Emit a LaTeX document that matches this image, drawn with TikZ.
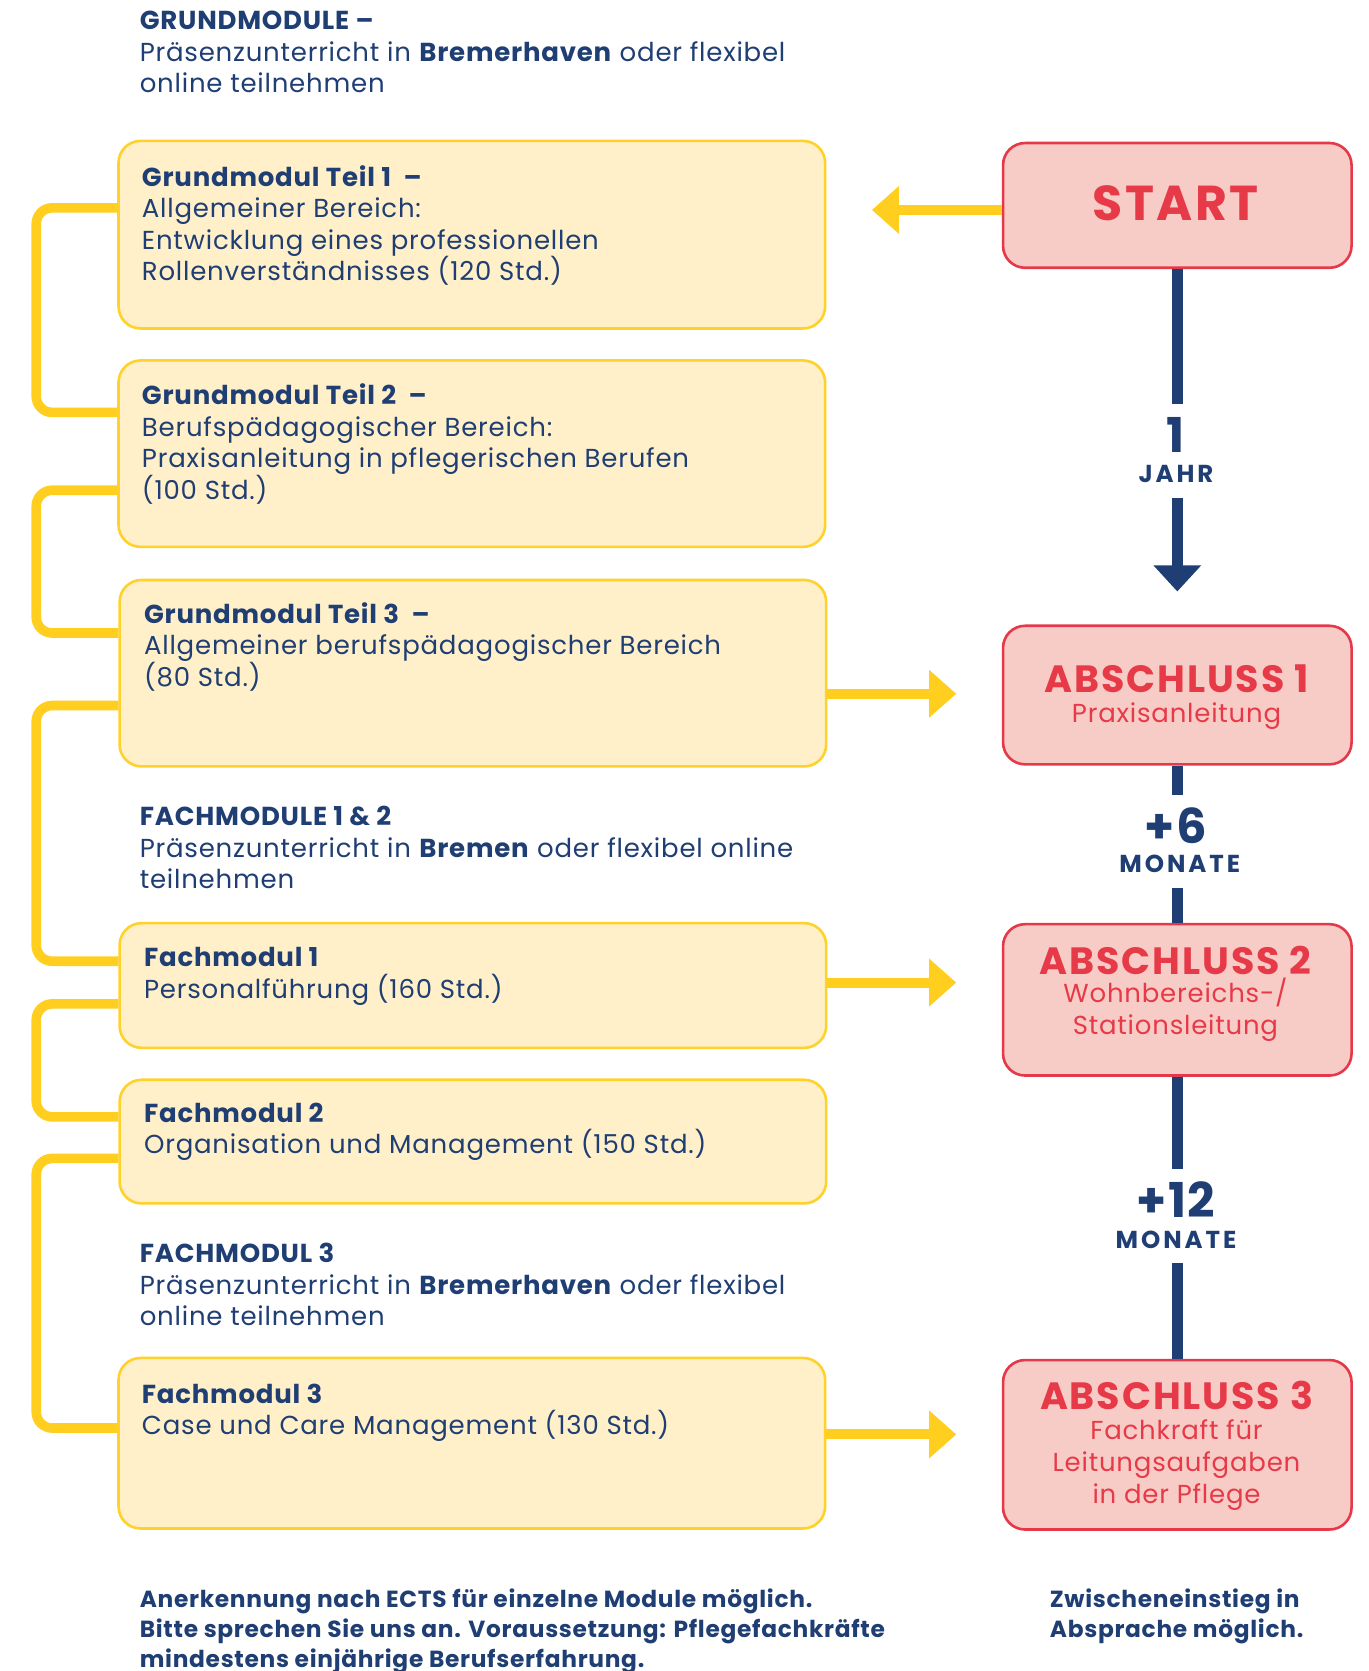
\documentclass[tikz,border=0pt]{standalone}
\usepackage{fontspec}
\setmainfont{Poppins}[LetterSpace=3]
\newfontfamily\titlefont{Poppins}[LetterSpace=5]
\newfontfamily\unitfont{Poppins}[LetterSpace=12]
\usetikzlibrary{arrows.meta}
\definecolor{navy}{HTML}{1F3E73}
\definecolor{ybar}{HTML}{FFCE1F}
\definecolor{yline}{HTML}{FFD12B}
\definecolor{yfill}{HTML}{FFF0C9}
\definecolor{rline}{HTML}{E5394A}
\definecolor{rfill}{HTML}{F8CCC6}
\definecolor{rtext}{HTML}{E63A48}
\begin{document}
\begin{tikzpicture}[x=1.0654pt,y=-1.0654pt,
  ybox/.style={draw=yline, fill=yfill, line width=2.6pt, rounded corners=22pt, minimum width=706.4pt, inner sep=0pt, anchor=north west},
  rbox/.style={draw=rline, fill=rfill, line width=2.6pt, rounded corners=22pt, minimum width=348.4pt, inner sep=0pt, anchor=north west},
  btxt/.style={anchor=base west, inner sep=0pt, align=left, text=navy, font=\fontsize{26pt}{31.4pt}\selectfont},
  ntxt/.style={anchor=base west, inner sep=0pt, align=left, text=navy, font=\bfseries\fontsize{23.3pt}{30.4pt}\selectfont},
  rtitle/.style={anchor=base, inner sep=0pt, text=rtext, font=\titlefont\bfseries\fontsize{38pt}{40pt}\selectfont},
  rsub/.style={anchor=base, inner sep=0pt, align=center, text=rtext, font=\fontsize{26pt}{32pt}\selectfont},
  bignum/.style={inner sep=0pt, outer ysep=13pt, text=navy, font=\bfseries\fontsize{48pt}{50pt}\selectfont},
  unit/.style={inner sep=0pt, outer ysep=15pt, text=navy, font=\unitfont\bfseries\fontsize{24.5pt}{26pt}\selectfont},
  bracket/.style={draw=ybar, line width=9.6pt, rounded corners=16pt},
  yarrow/.style={draw=ybar, line width=10pt, -{Triangle[length=27pt,width=46pt]}, shorten >=45.5pt},
  navyline/.style={draw=navy, line width=10.5pt}
]
\fill[white] (0,0) rectangle (1284,1568);
\useasboundingbox (0,0) rectangle (1284,1568);

% header texts (anchor = baseline of last line)
\node[btxt] (h1) at (131,87) {\textbf{GRUNDMODULE –}\\Präsenzunterricht in \textbf{Bremerhaven} oder flexibel\\online teilnehmen};
\node[btxt] (h2) at (131,834) {\textbf{FACHMODULE 1 \& 2}\\Präsenzunterricht in \textbf{Bremen} oder flexibel online\\teilnehmen};
\node[btxt] (h3) at (131,1244) {\textbf{FACHMODUL 3}\\Präsenzunterricht in \textbf{Bremerhaven} oder flexibel\\online teilnehmen};

% yellow boxes
\node[ybox, minimum height=187.5pt] (g1) at (110,131) {};
\node[ybox, minimum height=186.4pt] (g2) at (110,337) {};
\node[ybox, minimum height=186.4pt] (g3) at (111,543) {};
\node[ybox, minimum height=124.7pt] (f1) at (111,865) {};
\node[ybox, minimum height=123.6pt] (f2) at (111,1012) {};
\node[ybox, minimum height=170.5pt] (f3) at (110,1273) {};

% brackets
\draw[bracket] (g1.west |- 0,195) -- (34,195) -- (34,387) -- (g2.west |- 0,387);
\draw[bracket] (g2.west |- 0,460) -- (34,460) -- (34,594) -- (g3.west |- 0,594);
\draw[bracket] (g3.west |- 0,662) -- (34,662) -- (34,902) -- (f1.west |- 0,902);
\draw[bracket] (f1.west |- 0,942) -- (34,942) -- (34,1048) -- (f2.west |- 0,1048);
\draw[bracket] (f2.west |- 0,1087) -- (34,1087) -- (34,1340) -- (f3.west |- 0,1340);

% box texts (anchor = baseline of last line)
\node[btxt] (g1t) at (133,263.4) {\textbf{Grundmodul Teil 1 \ –}\\Allgemeiner Bereich:\\Entwicklung eines professionellen\\Rollenverständnisses (120 Std.)};
\node[btxt] (g2t) at (133,468.4) {\textbf{Grundmodul Teil 2 \ –}\\Berufspädagogischer Bereich:\\Praxisanleitung in pflegerischen Berufen\\(100 Std.)};
\node[btxt] (g3t) at (135,644) {\textbf{Grundmodul Teil 3 \ –}\\Allgemeiner berufspädagogischer Bereich\\(80 Std.)};
\node[btxt] (f1t) at (135,936.5) {\textbf{Fachmodul 1}\\Personalführung (160 Std.)};
\node[btxt] (f2t) at (135,1082.5) {\textbf{Fachmodul 2}\\Organisation und Management (150 Std.)};
\node[btxt] (f3t) at (133,1346.5) {\textbf{Fachmodul 3}\\Case und Care Management (130 Std.)};

% red boxes
\node[rbox, minimum height=124.7pt] (start) at (940,133) {};
\node[rbox, minimum height=138.5pt] (a1) at (940,586) {};
\node[rbox, minimum height=151.3pt] (a2) at (940,866) {};
\node[rbox, minimum height=169.4pt] (a3) at (940,1275) {};

\node[rtitle, font=\titlefont\bfseries\fontsize{49pt}{52pt}\selectfont] (startt) at (1103,207) {START};
\node[rtitle] (a1t) at (1104,650) {ABSCHLUSS 1};
\node[rsub] (a1s) at (1104,678) {Praxisanleitung};
\node[rtitle] (a2t) at (1103,914) {ABSCHLUSS 2};
\node[rsub] (a2s) at (1103,971) {Wohnbereichs-/\\Stationsleitung};
\node[rtitle] (a3t) at (1104,1323) {ABSCHLUSS 3};
\node[rsub] (a3s) at (1104,1411) {Fachkraft für\\Leitungsaufgaben\\in der Pflege};

% yellow arrows
\draw[yarrow] (start.west |- 0,197) -- (g1.east |- 0,197);
\draw[yarrow] (g3.east |- 0,651) -- (a1.west |- 0,651);
\draw[yarrow] (f1.east |- 0,922) -- (a2.west |- 0,922);
\draw[yarrow] (f3.east |- 0,1346) -- (a3.west |- 0,1346);

% durations
\node[bignum] (one) at (1103.5,408) {1};
\node[unit] (jahr) at (1103.5,445) {JAHR};
\coordinate (tip1) at (start.south |- 0,555);
\node[bignum] (six) at (1103.5,775) {+6};
\node[unit] (mon1) at (1107,811) {MONATE};
\node[bignum] (twelve) at (1103.5,1126) {+12};
\node[unit] (mon2) at (1103.5,1163) {MONATE};

\draw[navyline] (start.south) -- (start.south |- one.north);
\draw[navyline, -{Triangle[length=26pt,width=46pt]}] (start.south |- jahr.south) -- (tip1);
\draw[navyline] (a1.south) -- (a1.south |- six.north);
\draw[navyline] (a1.south |- mon1.south) -- (a2.north);
\draw[navyline] (a2.south) -- (a2.south |- twelve.north);
\draw[navyline] (a2.south |- mon2.south) -- (a3.north);

% notes
\node[ntxt] (n1) at (131,1565) {Anerkennung nach ECTS für einzelne Module möglich.\\Bitte sprechen Sie uns an. Voraussetzung: Pflegefachkräfte\\mindestens einjährige Berufserfahrung.};
\node[ntxt] (n2) at (985,1536.5) {Zwischeneinstieg in\\Absprache möglich.};
\end{tikzpicture}
\end{document}
